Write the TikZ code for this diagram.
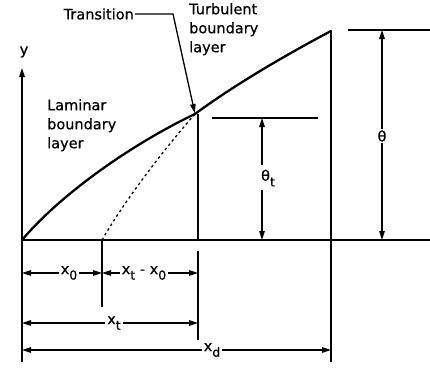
\documentclass[tikz,border=0pt]{standalone}
\usepackage{fontspec}
\setmainfont[FakeBold=0.6]{DejaVu Sans}
\usetikzlibrary{arrows.meta}
\newcommand\mysub[1]{\raisebox{-0.7ex}{\fontsize{12.5}{12.5}\selectfont #1}}
\begin{document}
\begin{tikzpicture}[x=1pt,y=-1pt,
  thinline/.style={line width=1.3pt},
  curve/.style={line width=2.3pt, line cap=round},
  tip/.style={-{Triangle[length=9pt,width=5.5pt]}},
  dim/.style={line width=1.3pt, {Triangle[length=9pt,width=5.5pt]}-{Triangle[length=9pt,width=5.5pt]}},
  lbl/.style={font=\fontsize{14.5}{19}\selectfont, inner sep=1pt},
  dimlbl/.style={lbl, fill=white, inner sep=2pt}]
\useasboundingbox (0,0) rectangle (430,368);
% key points
\coordinate (O) at (22,240);
\coordinate (T) at (195,114);
\coordinate (E) at (331,31);
\coordinate (X0) at (102,240);
% axes and baseline
\draw[thinline] (22,362) -- (O);
\draw[thinline, tip] (O) -- (22,68);
\node[lbl] (ylab) at (24,52) {y};
\draw[thinline] (O) -- (430,240);
% verticals
\draw[thinline] (198,114) -- (198,240);
\draw[thinline] (198,251) -- (198,340);
\draw[thinline] (X0) -- (102,307);
\draw[thinline] (E) -- (331,362);
% curves
\draw[curve] (O) .. controls (60,195) and (130,145) .. (T);
\draw[curve] (T) .. controls (230,88) and (280,58) .. (E);
\draw[line width=1.3pt, dash pattern=on 2.5pt off 3pt] (X0) .. controls (125,200) and (165,148) .. (T);
% texts
\node[lbl, align=left, anchor=north west] (lam) at (46,98) {Laminar\\boundary\\layer};
\node[lbl, align=left, anchor=north west] (turb) at (188,2) {Turbulent\\boundary\\layer};
\node[lbl, anchor=east] (trans) at (135,14) {Transition};
\draw[thinline, tip, shorten >=1pt] (trans.east) -- (173,14) -- (T);
% theta_t
\coordinate (ThT) at (212,118);
\draw[thinline] (ThT) -- (318,118);
\node[lbl] (thtlab) at (268,178) {θ\mysub{t}};
\draw[thinline, tip] (262,165) -- (262,118);
\draw[thinline, tip] (262,190) -- (262,240);
% theta
\draw[thinline] (348,30) -- (430,30);
\node[lbl] (thlab) at (382,136) {θ};
\draw[thinline, tip] (thlab.north) -- (382,30);
\draw[thinline, tip] (thlab.south) -- (382,240);
% dimension rows
\draw[dim] (22,273) -- (102,273);
\node[dimlbl] (lx0) at (69,273) {x\mysub{0}};
\draw[dim] (102,273) -- (198,273);
\node[dimlbl] (lxt0) at (144,273) {x\mysub{t} - x\mysub{0}};
\draw[dim] (22,323) -- (198,323);
\node[dimlbl] (lxt) at (114,323) {x\mysub{t}};
\draw[dim] (22,350) -- (331,350);
\node[dimlbl] (lxd) at (212,350) {x\mysub{d}};
\end{tikzpicture}
\end{document}
